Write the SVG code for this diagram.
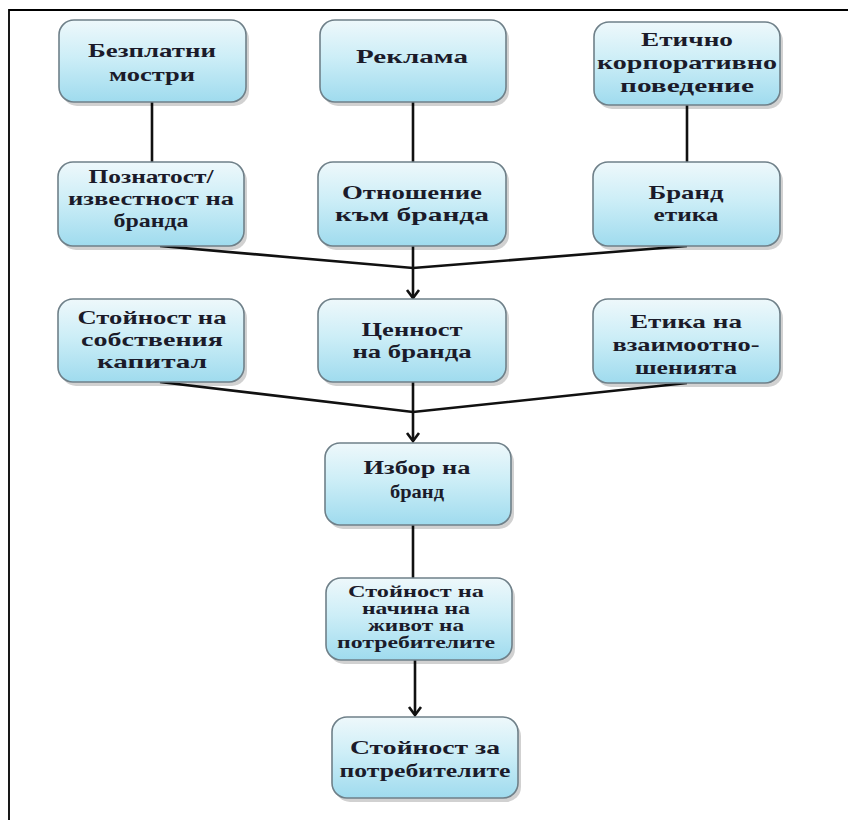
<svg xmlns="http://www.w3.org/2000/svg" width="848" height="820" viewBox="0 0 848 820">
<style>
.box{fill:url(#g);stroke:#6f8089;stroke-width:1.6}
.sh{fill:#000;opacity:0.18}
.t{font-family:"Liberation Serif","Times New Roman",serif;font-weight:bold;font-size:19px;fill:#1b1b2a;text-anchor:middle}
.s{font-size:16px}
.c{stroke:#111;stroke-width:2.6;fill:none}
</style>
<defs>
<linearGradient id="g" x1="0" y1="0" x2="0" y2="1">
<stop offset="0" stop-color="#eef8fb"/>
<stop offset="0.45" stop-color="#cdeef7"/>
<stop offset="1" stop-color="#9fdbee"/>
</linearGradient>
<marker id="a" markerUnits="userSpaceOnUse" markerWidth="16" markerHeight="14" refX="8" refY="11" orient="0">
<path d="M2,3 L8,11 L14,3" fill="none" stroke="#111" stroke-width="2.6"/>
</marker>
</defs>
<rect width="848" height="820" fill="#fff"/>
<path d="M9,820 L9,10 L848,10" fill="none" stroke="#000" stroke-width="1.8"/>

<g id="connectors">
<line class="c" x1="152" y1="102" x2="152" y2="162"/>
<line class="c" x1="413" y1="102" x2="413" y2="162"/>
<line class="c" x1="687" y1="105" x2="687" y2="162"/>
<polyline class="c" points="160,246 413,268 687,246"/>
<line class="c" x1="413" y1="246" x2="413" y2="298" marker-end="url(#a)"/>
<polyline class="c" points="160,382 413,412 687,383"/>
<line class="c" x1="413" y1="382" x2="413" y2="441" marker-end="url(#a)"/>
<line class="c" x1="413" y1="525" x2="413" y2="578"/>
<line class="c" x1="415" y1="660" x2="415" y2="715" marker-end="url(#a)"/>
</g>

<g id="n1">
<rect class="sh" x="62" y="24" width="187" height="82" rx="15"/>
<rect class="box" x="59" y="20" width="187" height="82" rx="15"/>
<text class="t" x="152" y="57" textLength="128" lengthAdjust="spacingAndGlyphs">Безплатни</text>
<text class="t" x="152" y="81" textLength="86" lengthAdjust="spacingAndGlyphs">мостри</text>
</g>
<g id="n2">
<rect class="sh" x="323" y="24" width="186" height="82" rx="15"/>
<rect class="box" x="320" y="20" width="186" height="82" rx="15"/>
<text class="t" x="412" y="63" textLength="112" lengthAdjust="spacingAndGlyphs">Реклама</text>
</g>
<g id="n3">
<rect class="sh" x="597" y="26" width="186" height="83" rx="15"/>
<rect class="box" x="594" y="22" width="186" height="83" rx="15"/>
<text class="t" x="687" y="46" textLength="92" lengthAdjust="spacingAndGlyphs">Етично</text>
<text class="t" x="687" y="69" textLength="180" lengthAdjust="spacingAndGlyphs">корпоративно</text>
<text class="t" x="687" y="92" textLength="134" lengthAdjust="spacingAndGlyphs">поведение</text>
</g>

<g id="n4">
<rect class="sh" x="61" y="166" width="186" height="84" rx="15"/>
<rect class="box" x="58" y="162" width="186" height="84" rx="15"/>
<text class="t" x="151" y="183" textLength="125" lengthAdjust="spacingAndGlyphs">Познатост/</text>
<text class="t" x="151" y="205" textLength="166" lengthAdjust="spacingAndGlyphs">известност на</text>
<text class="t" x="151" y="227" textLength="75" lengthAdjust="spacingAndGlyphs">бранда</text>
</g>
<g id="n5">
<rect class="sh" x="321" y="166" width="188" height="84" rx="15"/>
<rect class="box" x="318" y="162" width="188" height="84" rx="15"/>
<text class="t" x="412" y="199" textLength="140" lengthAdjust="spacingAndGlyphs">Отношение</text>
<text class="t" x="412" y="221" textLength="154" lengthAdjust="spacingAndGlyphs">към бранда</text>
</g>
<g id="n6">
<rect class="sh" x="596" y="166" width="187" height="84" rx="15"/>
<rect class="box" x="593" y="162" width="187" height="84" rx="15"/>
<text class="t" x="686" y="199" textLength="75" lengthAdjust="spacingAndGlyphs">Бранд</text>
<text class="t" x="686" y="221" textLength="65" lengthAdjust="spacingAndGlyphs">етика</text>
</g>

<g id="n7">
<rect class="sh" x="61" y="303" width="186" height="83" rx="15"/>
<rect class="box" x="58" y="299" width="186" height="83" rx="15"/>
<text class="t" x="152" y="324" textLength="149" lengthAdjust="spacingAndGlyphs">Стойност на</text>
<text class="t" x="152" y="346" textLength="142" lengthAdjust="spacingAndGlyphs">собствения</text>
<text class="t" x="152" y="368" textLength="110" lengthAdjust="spacingAndGlyphs">капитал</text>
</g>
<g id="n8">
<rect class="sh" x="321" y="303" width="188" height="83" rx="15"/>
<rect class="box" x="318" y="299" width="188" height="83" rx="15"/>
<text class="t" x="412" y="336" textLength="101" lengthAdjust="spacingAndGlyphs">Ценност</text>
<text class="t" x="412" y="358" textLength="119" lengthAdjust="spacingAndGlyphs">на бранда</text>
</g>
<g id="n9">
<rect class="sh" x="596" y="303" width="187" height="84" rx="15"/>
<rect class="box" x="593" y="299" width="187" height="84" rx="15"/>
<text class="t" x="686" y="328" textLength="112" lengthAdjust="spacingAndGlyphs">Етика на</text>
<text class="t" x="686" y="351" textLength="147" lengthAdjust="spacingAndGlyphs">взаимоотно-</text>
<text class="t" x="686" y="374" textLength="102" lengthAdjust="spacingAndGlyphs">шенията</text>
</g>

<g id="n10">
<rect class="sh" x="328" y="447" width="186" height="82" rx="15"/>
<rect class="box" x="325" y="443" width="186" height="82" rx="15"/>
<text class="t" x="417" y="474" textLength="107" lengthAdjust="spacingAndGlyphs">Избор на</text>
<text class="t" x="417" y="498" textLength="54" lengthAdjust="spacingAndGlyphs">бранд</text>
</g>
<g id="n11">
<rect class="sh" x="329" y="582" width="186" height="82" rx="15"/>
<rect class="box" x="326" y="578" width="186" height="82" rx="15"/>
<text class="t s" x="416" y="597" textLength="136" lengthAdjust="spacingAndGlyphs">Стойност на</text>
<text class="t s" x="416" y="614" textLength="108" lengthAdjust="spacingAndGlyphs">начина на</text>
<text class="t s" x="416" y="631" textLength="96" lengthAdjust="spacingAndGlyphs">живот на</text>
<text class="t s" x="416" y="648" textLength="158" lengthAdjust="spacingAndGlyphs">потребителите</text>
</g>
<g id="n12">
<rect class="sh" x="335" y="721" width="186" height="81" rx="15"/>
<rect class="box" x="332" y="717" width="186" height="81" rx="15"/>
<text class="t" x="425" y="754" textLength="150" lengthAdjust="spacingAndGlyphs">Стойност за</text>
<text class="t" x="425" y="777" textLength="171" lengthAdjust="spacingAndGlyphs">потребителите</text>
</g>
</svg>
